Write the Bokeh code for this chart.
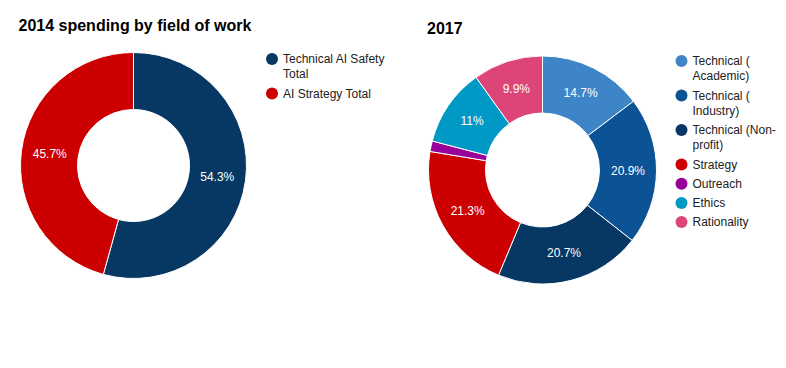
import numpy as np
from bokeh.plotting import figure
from bokeh.models import ColumnDataSource, Range1d
from bokeh.core.properties import value
from bokeh.embed import file_html
from bokeh.resources import INLINE

# ---- data ----
title_2014 = "2014 spending by field of work"
labels_2014 = ["Technical AI Safety\nTotal", "AI Strategy Total"]
values_2014 = [54.3, 45.7]
colors_2014 = ["#073763", "#cc0000"]

title_2017 = "2017"
labels_2017 = ["Technical (\nAcademic)", "Technical (\nIndustry)", "Technical (Non-\nprofit)",
               "Strategy", "Outreach", "Ethics", "Rationality"]
values_2017 = [14.7, 20.9, 20.7, 21.3, 1.5, 11.0, 9.9]
colors_2017 = ["#3d85c6", "#0b5394", "#073763", "#cc0000", "#990099", "#0099c6", "#dd4477"]

W, H = 786, 360
FONT = "Liberation Sans"

p = figure(width=W, height=H, output_backend="svg", toolbar_location=None,
           x_range=Range1d(0, W), y_range=Range1d(0, H), min_border=0)
p.axis.visible = False
p.grid.visible = False
p.outline_line_color = None


def sy(y):  # screen y -> data y
    return H - y


def sx(x):
    return x


def donut(cx, cy, r_out, r_in, vals, cols, labels, title, tx, ty, lx, ly, min_label=2.0):
    v = np.array(vals, dtype=float)
    frac = v / v.sum()
    cum = np.concatenate([[0], np.cumsum(frac)])
    start = np.pi / 2 - cum[:-1] * 2 * np.pi
    end = np.pi / 2 - cum[1:] * 2 * np.pi
    src = ColumnDataSource(dict(x=[sx(cx)] * len(v), y=[sy(cy)] * len(v),
                                start=start, end=end, color=cols))
    p.annular_wedge(x="x", y="y", inner_radius=r_in, outer_radius=r_out,
                    start_angle="start", end_angle="end", direction="clock",
                    fill_color="color", line_color="white", line_width=1, source=src)
    mid = (start + end) / 2
    rm = (r_in + r_out) / 2
    txt = []
    xs, ys = [], []
    for i, val in enumerate(v):
        if val < min_label:
            continue
        s = ("%.1f" % val).rstrip("0").rstrip(".") + "%"
        txt.append(s)
        xs.append(sx(cx) + rm * np.cos(mid[i]))
        ys.append(sy(cy) + rm * np.sin(mid[i]))
    p.text(x=xs, y=ys, text=txt, text_color="white", text_font=value(FONT),
           text_font_size="12px", text_align="center", text_baseline="middle")
    # title
    p.text(x=[sx(tx)], y=[sy(ty)], text=[title], text_font=value(FONT), text_font_style="bold",
           text_font_size="16px", text_color="#000000", text_align="left", text_baseline="alphabetic")
    # legend
    y = ly
    cxs, cys, tx_, ty_, tt = [], [], [], [], []
    for lab in labels:
        lines = lab.split("\n")
        cxs.append(sx(lx))
        cys.append(sy(y))
        for j, ln in enumerate(lines):
            tx_.append(sx(lx + 11))
            ty_.append(sy(y + 15.3 * j))
            tt.append(ln)
        y += 15.3 * (len(lines) - 1) + 19.2
    p.scatter(x=cxs, y=cys, size=12, marker="circle", fill_color=cols, line_color=None)
    p.text(x=tx_, y=ty_, text=tt, text_font=value(FONT), text_font_size="12px",
           text_color="#222222", text_align="left", text_baseline="middle")


donut(133, 165, 113, 56, values_2014, colors_2014, labels_2014, title_2014, 18, 25, 271.5, 58.5)
donut(542, 169.5, 114, 57, values_2017, colors_2017, labels_2017, title_2017, 426.5, 27.3, 681, 60.5)

open("out.html", "w").write(file_html(p, INLINE))
